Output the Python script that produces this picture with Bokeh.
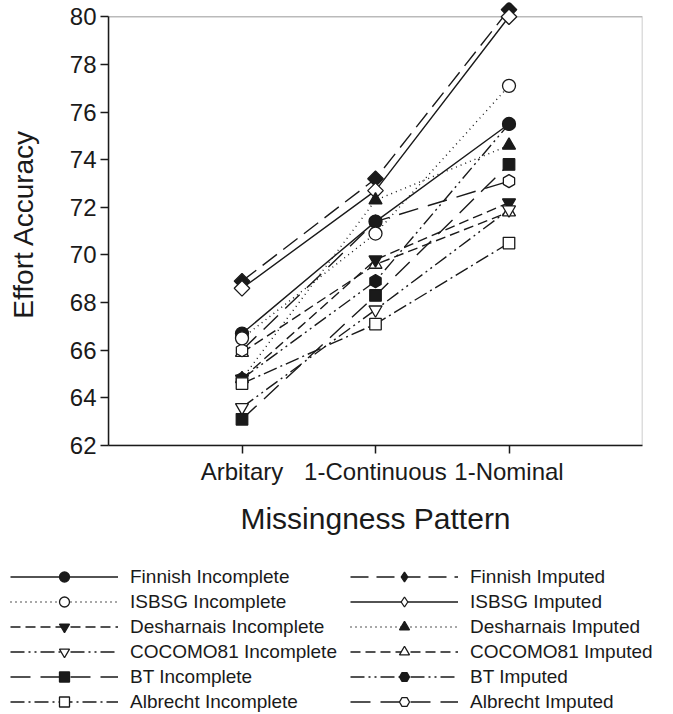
import numpy as np
from bokeh.plotting import figure
from bokeh.models import Range1d, FixedTicker, Legend, LegendItem, BoxAnnotation
from bokeh.embed import file_html
from bokeh.resources import INLINE

# ---------------- data ----------------
patterns = ["Arbitary", "1-Continuous", "1-Nominal"]
x_pos = [0, 1, 2]
y_ticks = [62, 64, 66, 68, 70, 72, 74, 76, 78, 80]

finnish_incomplete = [66.7, 71.4, 75.5]
isbsg_incomplete = [66.5, 70.9, 77.1]
desharnais_incomplete = [64.8, 69.8, 72.2]
cocomo81_incomplete = [63.6, 67.7, 71.9]
bt_incomplete = [63.1, 68.3, 73.8]
albrecht_incomplete = [64.6, 67.1, 70.5]

finnish_imputed = [68.9, 73.2, 80.3]
isbsg_imputed = [68.6, 72.7, 80.0]
desharnais_imputed = [64.8, 72.3, 74.6]
cocomo81_imputed = [65.9, 69.6, 71.8]
bt_imputed = [64.8, 68.9, 75.5]
albrecht_imputed = [66.0, 71.4, 73.1]

FONT = "Liberation Sans"
INK = "#1a1a1a"

# label, values, dash, marker, filled, size, angle, legend marker
incomplete = [
    ("Finnish Incomplete", finnish_incomplete, "solid", "circle", True, 13, 0, "circle"),
    ("ISBSG Incomplete", isbsg_incomplete, "1 4", "circle", False, 13, 0, "circle"),
    ("Desharnais Incomplete", desharnais_incomplete, "10 5", "inverted_triangle", True, 13, 0, "inverted_triangle"),
    ("COCOMO81 Incomplete", cocomo81_incomplete, "14 4 2 4 2 4", "inverted_triangle", False, 13, 0, "inverted_triangle"),
    ("BT Incomplete", bt_incomplete, "20 10", "square", True, 11.5, 0, "square"),
    ("Albrecht Incomplete", albrecht_incomplete, "14 4 2 4", "square", False, 11.5, 0, "square"),
]
imputed = [
    ("Finnish Imputed", finnish_imputed, "18 8", "square", True, 11, np.pi / 4, "diamond"),
    ("ISBSG Imputed", isbsg_imputed, "solid", "square", False, 11, np.pi / 4, "diamond"),
    ("Desharnais Imputed", desharnais_imputed, "1 4", "triangle", True, 13, 0, "triangle"),
    ("COCOMO81 Imputed", cocomo81_imputed, "10 5", "triangle", False, 13, 0, "triangle"),
    ("BT Imputed", bt_imputed, "14 4 2 4 2 4", "hex", True, 13, np.pi / 6, "hex"),
    ("Albrecht Imputed", albrecht_imputed, "20 10", "hex", False, 13, np.pi / 6, "hex"),
]


def draw(fig, xs, vals, dash, marker, filled, size, ang):
    lr = fig.line(xs, vals, line_color=INK, line_width=1.4, line_dash=dash)
    sr = fig.scatter(xs, vals, marker=marker, size=size, angle=ang,
                     line_color=INK, line_width=1.3,
                     fill_color=INK if filled else "white")
    return [lr, sr]


# ---------------- main chart ----------------
p = figure(
    width=673, height=564,
    x_range=Range1d(-1, 3), y_range=Range1d(62, 80.6),
    output_backend="svg", toolbar_location=None,
    min_border_left=108, min_border_right=31, min_border_top=2, min_border_bottom=119,
)
p.outline_line_color = None
p.grid.visible = False
p.background_fill_color = "white"
p.border_fill_color = "white"

frame = BoxAnnotation(bottom=62, top=80, fill_color=None, fill_alpha=0,
                      line_color=INK, line_width=1.5, level="underlay")
p.add_layout(frame)

for (label, vals, dash, marker, filled, size, ang, lm) in imputed + incomplete:
    draw(p, x_pos, vals, dash, marker, filled, size, ang)

p.xaxis.ticker = FixedTicker(ticks=x_pos)
p.xaxis.major_label_overrides = {x: lab for x, lab in zip(x_pos, patterns)}
p.xaxis.axis_label = "Missingness Pattern"
p.yaxis.ticker = FixedTicker(ticks=y_ticks)
p.yaxis.axis_label = "Effort Accuracy"
p.yaxis.bounds = (62, 80)
for ax in (p.xaxis, p.yaxis):
    ax.minor_tick_line_color = None
    ax.major_tick_in = 0
    ax.major_tick_out = 8
    ax.axis_line_color = INK
    ax.axis_line_width = 1.5
    ax.major_tick_line_color = INK
    ax.major_tick_line_width = 1.5
    ax.major_label_text_font = FONT
    ax.major_label_text_font_size = "24px"
    ax.major_label_text_color = INK
    ax.axis_label_text_font = FONT
    ax.axis_label_text_font_style = "normal"
    ax.axis_label_text_color = INK
p.xaxis.major_label_standoff = 4
p.yaxis.major_label_standoff = 4
p.xaxis.axis_label_text_font_size = "30px"
p.yaxis.axis_label_text_font_size = "28px"
p.xaxis.axis_label_standoff = 14
p.yaxis.axis_label_standoff = 28

# ---------------- legend panel (separate root, no frame alignment) ----------------
# the series are drawn here too, but outside the visible range, so only the legends show
lg = figure(
    width=673, height=150, x_range=Range1d(100, 101), y_range=Range1d(0, 1),
    output_backend="svg", toolbar_location=None,
    x_axis_location=None, y_axis_location=None,
    min_border_left=0, min_border_right=0, min_border_top=0, min_border_bottom=0,
)
lg.grid.visible = False
lg.outline_line_color = None
lg.background_fill_color = "white"
lg.border_fill_color = "white"


def make_legend(series, x0):
    its = []
    for (label, vals, dash, marker, filled, size, ang, lm) in series:
        its.append(LegendItem(label=label,
                              renderers=draw(lg, x_pos, vals, dash, lm, filled, size, 0)))
    return Legend(items=its, location=(x0, 0),
                  glyph_width=108, glyph_height=25, label_height=20,
                  label_standoff=12, spacing=0, padding=0, margin=0,
                  label_text_font=FONT, label_text_font_size="19px",
                  label_text_color=INK,
                  border_line_color=None, background_fill_alpha=0)


lg.add_layout(make_legend(incomplete, 10), "center")
lg.add_layout(make_legend(imputed, 350), "center")

open("out.html", "w").write(file_html([p, lg], INLINE))
